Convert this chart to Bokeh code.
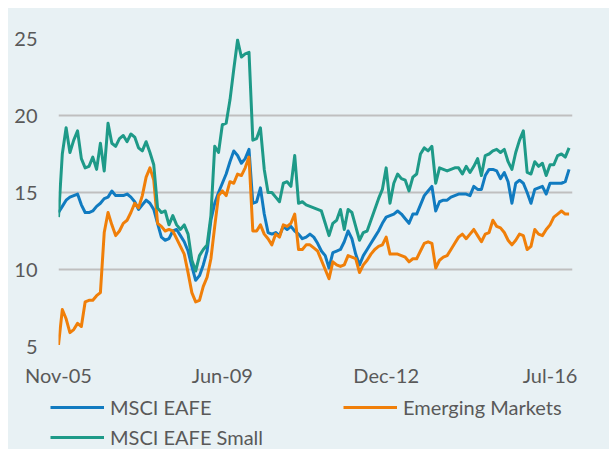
from bokeh.plotting import figure
from bokeh.models import Range1d, FixedTicker, Legend, LegendItem
from bokeh.layouts import column, row
from bokeh.embed import file_html
from bokeh.resources import INLINE

# month index from Nov-05
months = list(range(135))

msci_eafe = [13.7, 14.1, 14.5, 14.7, 14.8, 14.9, 14.2, 13.7, 13.7, 13.8,
             14.1, 14.3, 14.6, 14.7, 15.1, 14.8, 14.8, 14.8, 14.9, 14.7,
             14.4, 13.9, 14.2, 14.5, 14.3, 13.9, 13.0, 12.1, 11.9, 12.0,
             12.5, 12.6, 12.2, 11.8, 11.2, 10.2, 9.3, 9.6, 10.3, 11.2,
             13.2, 14.3, 15.0, 15.6, 16.2, 17.0, 17.7, 17.4, 16.9, 17.2,
             17.8, 14.3, 14.4, 15.3, 13.6, 12.4, 12.3, 12.4, 12.2, 12.8,
             12.6, 12.8, 12.5, 12.3, 12.0, 12.1, 12.3, 12.1, 11.7, 11.2,
             10.9, 10.1, 11.1, 11.2, 11.3, 11.8, 12.5, 12.0, 11.0, 10.3,
             10.9, 11.3, 11.7, 12.1, 12.5, 13.0, 13.4, 13.5, 13.6, 13.8,
             13.6, 13.3, 13.0, 13.6, 13.6, 14.2, 14.8, 15.1, 15.4, 13.8,
             14.4, 14.5, 14.5, 14.7, 14.8, 14.9, 14.9, 14.9, 14.8, 15.4,
             15.2, 15.2, 16.1, 16.5, 16.5, 16.4, 15.9, 16.3, 15.7, 14.3,
             15.6, 15.8, 15.6, 15.0, 14.3, 15.2, 15.3, 15.4, 14.9, 15.6,
             15.6, 15.6, 15.6, 15.7, 16.5]

emerging = [5.1, 7.4, 6.8, 5.9, 6.1, 6.5, 6.3, 7.9, 8.0, 8.0,
            8.3, 8.5, 12.4, 13.7, 12.9, 12.2, 12.5, 13.0, 13.2, 13.7,
            14.3, 14.0, 14.8, 16.0, 16.6, 15.8, 13.0, 12.8, 12.5, 12.6,
            12.5, 12.0, 11.5, 11.0, 9.8, 8.5, 7.9, 8.0, 8.9, 9.5,
            10.7, 12.8, 14.8, 15.1, 14.8, 15.7, 15.6, 16.2, 16.1, 16.6,
            17.3, 12.5, 12.5, 12.9, 12.3, 12.0, 11.6, 12.3, 12.1, 12.9,
            12.8, 13.0, 13.6, 11.3, 11.3, 11.6, 11.6, 11.4, 11.2, 10.6,
            10.0, 9.4, 10.5, 10.3, 10.2, 10.3, 10.9, 10.8, 10.7, 9.8,
            10.3, 10.6, 11.0, 11.3, 11.5, 11.6, 12.1, 11.0, 11.0, 11.0,
            10.9, 10.8, 10.5, 10.7, 10.7, 11.2, 11.7, 11.8, 11.7, 10.1,
            10.6, 10.8, 10.9, 11.3, 11.7, 12.1, 12.3, 12.0, 12.3, 12.6,
            12.2, 11.8, 12.3, 12.4, 13.2, 12.8, 12.7, 12.4, 11.9, 11.6,
            11.9, 12.3, 12.2, 11.3, 11.5, 12.6, 12.3, 12.2, 12.6, 12.9,
            13.4, 13.6, 13.8, 13.6, 13.6]

msci_eafe_small = [13.4, 17.5, 19.2, 17.6, 18.4, 19.0, 17.2, 16.6, 16.7, 17.3,
                   16.5, 18.2, 16.4, 19.5, 18.2, 18.0, 18.5, 18.7, 18.3, 18.8,
                   18.6, 17.9, 17.7, 18.3, 17.6, 16.8, 14.0, 13.7, 13.8, 12.9,
                   13.5, 12.9, 12.6, 12.9, 12.3, 10.6, 9.9, 10.9, 11.3, 11.6,
                   13.5, 18.0, 17.6, 19.4, 19.5, 21.0, 23.0, 24.9, 23.8, 24.0,
                   24.1, 18.4, 18.5, 19.2, 16.5, 15.0, 15.0, 14.7, 14.4, 15.6,
                   15.7, 15.4, 17.4, 14.3, 14.4, 14.2, 14.1, 14.0, 13.9, 13.8,
                   13.0, 12.2, 13.0, 13.2, 13.9, 12.6, 13.9, 13.7, 12.8, 11.9,
                   12.4, 12.5, 13.2, 13.9, 14.6, 15.2, 16.6, 14.3, 15.6, 16.2,
                   15.9, 15.8, 15.1, 16.0, 16.2, 17.5, 17.9, 17.7, 18.0, 15.6,
                   16.6, 16.5, 16.4, 16.5, 16.6, 16.6, 16.2, 16.7, 16.3, 16.7,
                   17.2, 16.1, 17.4, 17.5, 17.7, 17.8, 17.6, 17.8, 17.0, 16.5,
                   17.6, 18.4, 19.0, 16.3, 16.2, 17.0, 16.7, 16.9, 16.1, 16.8,
                   16.8, 17.4, 17.5, 17.3, 17.9]

x_tick_positions = [0, 43, 86, 129]
x_tick_labels = ["Nov-05", "Jun-09", "Dec-12", "Jul-16"]
y_ticks = [5, 10, 15, 20, 25]
series_names = ["MSCI EAFE", "Emerging Markets", "MSCI EAFE Small"]

BG = "#E8F1F4"
BLUE = "#117BC0"
ORANGE = "#F07F09"
TEAL = "#1E9A88"
TEXT = "#595959"
FONT = "Lato"
FSIZE = "20px"
LW = 3

# ---------- main chart ----------
p = figure(width=601, height=381, output_backend="svg", toolbar_location=None,
           x_range=Range1d(0, 134.9), y_range=Range1d(5, 25),
           min_border_left=50, min_border_right=37, min_border_top=30,
           min_border_bottom=41)
p.background_fill_color = BG
p.border_fill_color = BG
p.outline_line_color = None

p.xgrid.grid_line_color = None
p.ygrid.grid_line_color = "#BFBFBF"
p.ygrid.grid_line_width = 2

p.yaxis.ticker = FixedTicker(ticks=y_ticks)
p.xaxis.ticker = FixedTicker(ticks=x_tick_positions)
p.xaxis.major_label_overrides = {pos: lab for pos, lab in zip(x_tick_positions, x_tick_labels)}

for ax in (p.xaxis, p.yaxis):
    ax.axis_line_color = None
    ax.major_tick_line_color = None
    ax.minor_tick_line_color = None
    ax.major_tick_out = 0
    ax.major_tick_in = 0
    ax.major_label_text_font = FONT
    ax.major_label_text_font_size = FSIZE
    ax.major_label_text_color = TEXT
p.yaxis.major_label_standoff = 21
p.xaxis.major_label_standoff = 16

p.line(months, msci_eafe, line_color=BLUE, line_width=LW, line_join="round")
p.line(months, emerging, line_color=ORANGE, line_width=LW, line_join="round")
p.line(months, msci_eafe_small, line_color=TEAL, line_width=LW, line_join="round")

# ---------- legend strip ----------
q = figure(width=601, height=60, output_backend="svg", toolbar_location=None,
           x_range=Range1d(0, 1), y_range=Range1d(0, 1),
           x_axis_location=None, y_axis_location=None,
           min_border_left=0, min_border_right=0, min_border_top=0,
           min_border_bottom=0)
q.background_fill_color = None
q.border_fill_color = BG
q.outline_line_color = None
q.grid.visible = False

# hidden proxies so that the legend can draw the line keys
k1 = q.line(months, msci_eafe, line_color=BLUE, line_width=LW, visible=False)
k2 = q.line(months, emerging, line_color=ORANGE, line_width=LW, visible=False)
k3 = q.line(months, msci_eafe_small, line_color=TEAL, line_width=LW, visible=False)


def style(leg):
    leg.background_fill_alpha = 0
    leg.border_line_color = None
    leg.inactive_fill_alpha = 0
    leg.padding = 0
    leg.margin = 0
    leg.spacing = 6
    leg.glyph_width = 54
    leg.glyph_height = 24
    leg.label_height = 24
    leg.label_standoff = 6
    leg.label_text_font = FONT
    leg.label_text_font_size = FSIZE
    leg.label_text_color = TEXT
    leg.orientation = "vertical"


leg_a = Legend(items=[LegendItem(label=series_names[0], renderers=[k1]),
                      LegendItem(label=series_names[2], renderers=[k3])],
               location=(42, 0))
leg_b = Legend(items=[LegendItem(label=series_names[1], renderers=[k2])],
               location=(335, 30))
style(leg_a)
style(leg_b)
q.add_layout(leg_a)
q.add_layout(leg_b)

layout = column(p, row(q), spacing=0, margin=(8, 0, 0, 8),
                styles={"background-color": BG})
open("out.html", "w").write(file_html(layout, INLINE))
